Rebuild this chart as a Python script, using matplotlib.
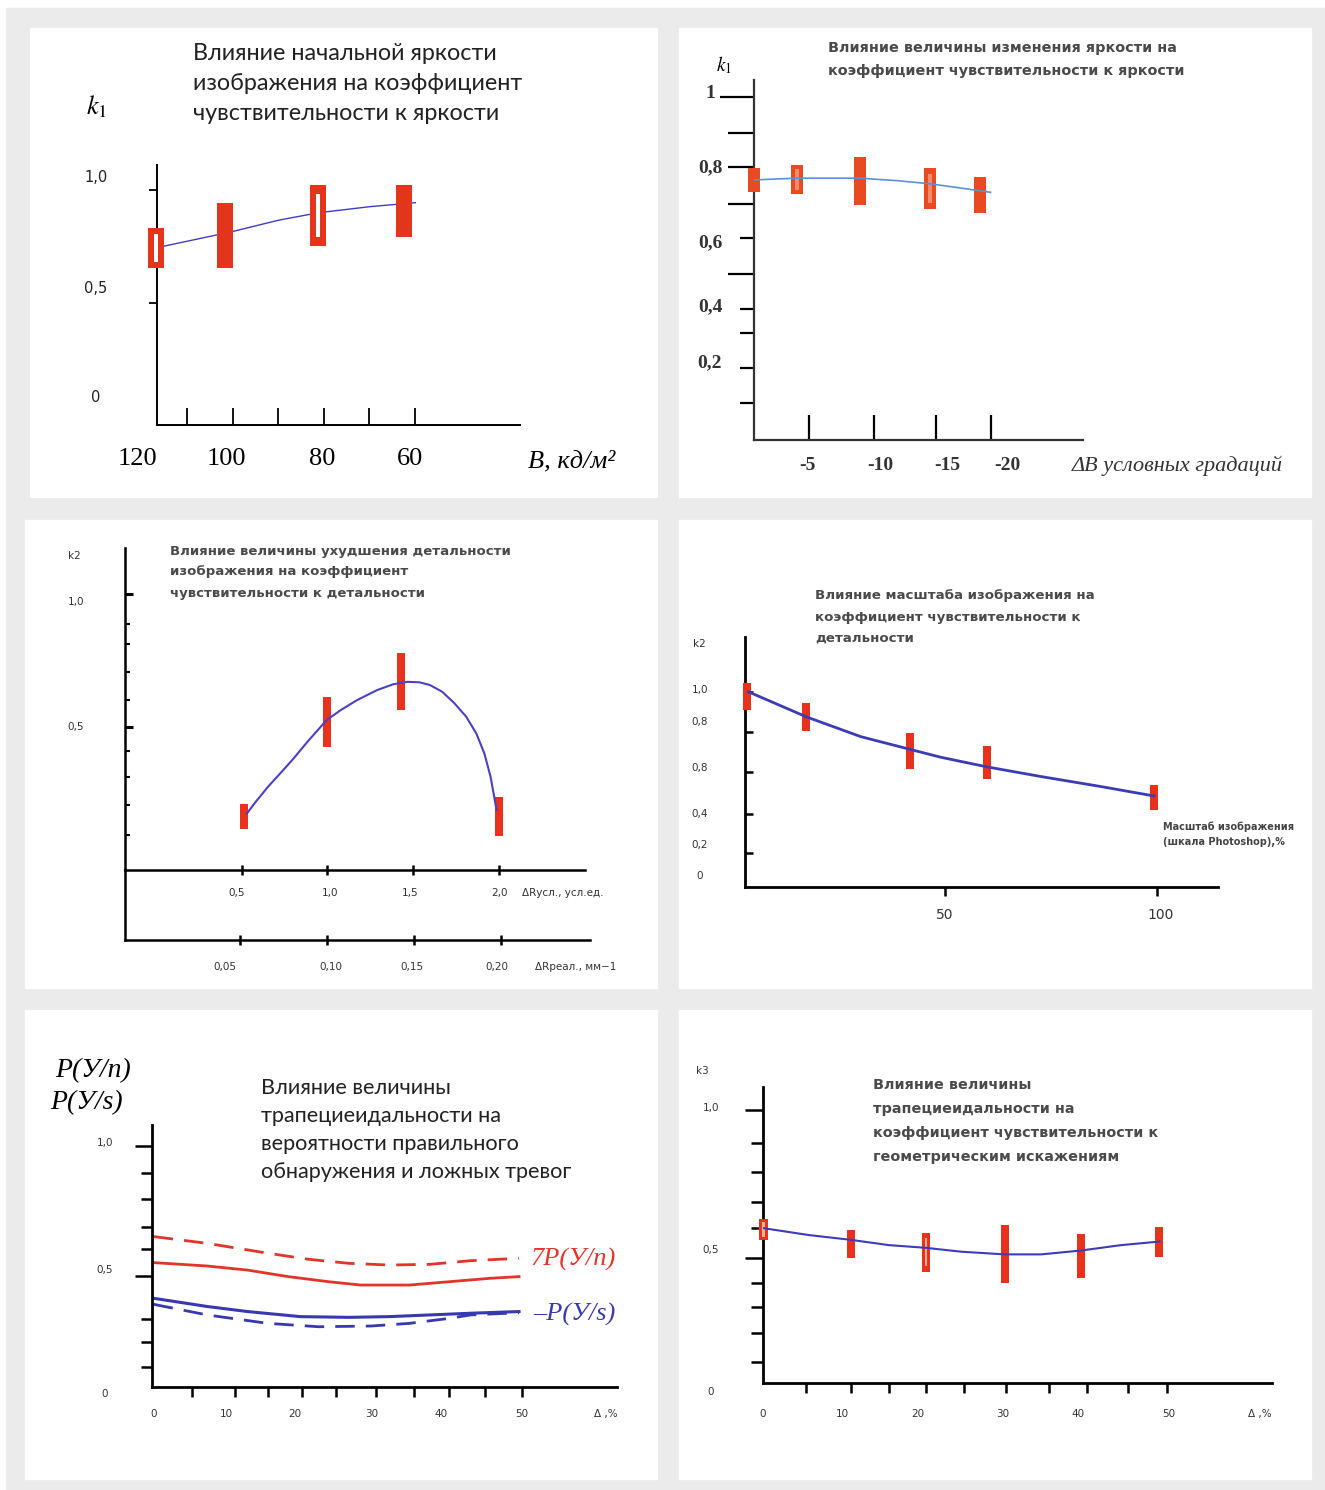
import matplotlib
matplotlib.use('Agg')
import matplotlib.pyplot as plt
from matplotlib.patches import Rectangle

plt.rcParams['mathtext.fontset'] = 'stix'

W, H = 1325, 1490

# ---------- данные: панель 1 (начальная яркость)
p1_bar_x = [116.9, 101.8, 81.3, 62.4]
p1_bar_lo = [0.655, 0.655, 0.752, 0.792]
p1_bar_hi = [0.832, 0.942, 1.022, 1.022]
p1_hollow = [True, False, True, False]
p1_curve_x = [115.1, 100.4, 89.9, 81.1, 69.7, 59.9]
p1_curve_y = [0.752, 0.815, 0.867, 0.900, 0.927, 0.944]
p1_xticks = [110, 100, 90, 80, 70, 60]
p1_xlab_pos = [120.9, 101.5, 80.4, 61.1]
p1_xlab = ['120', '100', '80', '60']
p1_yticks = [1.0, 0.5]
p1_ylab_pos = [1.054, 0.566, 0.08]
p1_ylab = ['1,0', '0,5', '0']

# ---------- панель 2 (изменение яркости)
p2_bar_x = [0.0, -3.9, -9.6, -16.0, -20.5]
p2_bar_lo = [0.731, 0.724, 0.693, 0.681, 0.671]
p2_bar_hi = [0.797, 0.806, 0.828, 0.797, 0.773]
p2_hollow = [False, True, False, True, False]
p2_curve_x = [0.0, -3.86, -9.6, -13.0, -16.0, -18.8, -21.5]
p2_curve_y = [0.764, 0.769, 0.769, 0.762, 0.753, 0.741, 0.729]
p2_yticks_top = [1.0]
p2_yticks_long = [0.898, 0.8, 0.696, 0.497]
p2_yticks_short = [0.599, 0.398, 0.331, 0.231, 0.131]
p2_ylab_pos = [1.010, 0.798, 0.585, 0.404, 0.245]
p2_ylab = ['1', '0,8', '0,6', '0,4', '0,2']
p2_xticks = [-5.0, -10.9, -16.5, -21.5]
p2_xlab_pos = [-4.9, -11.5, -17.6, -23.0]
p2_xlab = ['-5', '-10', '-15', '-20']

# ---------- панель 3 (ухудшение детальности)
p3_bar_x = [0.512, 0.996, 1.433, 2.0]
p3_bar_lo = [0.117, 0.428, 0.565, 0.094]
p3_bar_hi = [0.212, 0.613, 0.778, 0.240]
p3_curve_x = [0.531, 0.583, 0.654, 0.725, 0.795, 0.890, 0.996, 1.079, 1.173, 1.291, 1.386,
              1.469, 1.539, 1.599, 1.670, 1.740, 1.811, 1.870, 1.917, 1.953, 1.988]
p3_curve_y = [0.177, 0.221, 0.277, 0.327, 0.377, 0.450, 0.527, 0.565, 0.602, 0.640, 0.662,
              0.671, 0.669, 0.659, 0.634, 0.592, 0.540, 0.477, 0.402, 0.315, 0.190]
p3_yticks = [0.887, 0.812, 0.709, 0.602, 0.411, 0.315, 0.209, 0.096]
p3_yticks_main = [1.0, 0.5]
p3_ylab_pos = [0.970, 0.501]
p3_ylab = ['1,0', '0,5']
p3_xticks = [0.5, 1.0, 1.5, 2.0]
p3_xlab_pos = [0.473, 1.016, 1.483, 2.008]
p3_xlab = ['0,5', '1,0', '1,5', '2,0']
p3_x2ticks = [0.05, 0.10, 0.15, 0.20]
p3_x2lab_pos = [0.0416, 0.1025, 0.149, 0.198]
p3_x2lab = ['0,05', '0,10', '0,15', '0,20']

# ---------- панель 4 (масштаб изображения)
p4_bar_x = [3.2, 17.1, 41.7, 59.8, 99.2]
p4_bar_lo = [0.910, 0.807, 0.615, 0.566, 0.413]
p4_bar_hi = [1.043, 0.947, 0.794, 0.731, 0.537]
p4_curve_x = [3.6, 17.2, 30.1, 41.7, 49.1, 59.8, 72.8, 87.0, 99.3]
p4_curve_y = [1.001, 0.877, 0.778, 0.715, 0.675, 0.628, 0.579, 0.529, 0.483]
p4_yticks = [1.0, 0.8, 0.6, 0.393, 0.198]
p4_ylab_pos = [1.010, 0.851, 0.622, 0.393, 0.239, 0.085]
p4_ylab = ['1,0', '0,8', '0,8', '0,4', '0,2', '0']
p4_xticks = [50, 100]
p4_xlab_pos = [50.0, 100.8]
p4_xlab = ['50', '100']

# ---------- панель 5 (вероятности)
p5_rd_x = [0, 7.26, 15.5, 21.0, 26.5, 32.0, 37.5, 43.0, 49.6]
p5_rd_y = [0.624, 0.596, 0.555, 0.530, 0.513, 0.506, 0.509, 0.524, 0.534]
p5_rs_x = [0, 7.26, 12.75, 18.25, 23.7, 28.1, 34.7, 40.2, 45.7, 49.6]
p5_rs_y = [0.516, 0.502, 0.485, 0.458, 0.437, 0.423, 0.423, 0.437, 0.451, 0.458]
p5_bs_x = [0, 7.26, 12.75, 19.9, 26.5, 32.0, 37.5, 43.0, 49.6]
p5_bs_y = [0.368, 0.334, 0.313, 0.292, 0.289, 0.292, 0.299, 0.306, 0.313]
p5_bd_x = [0, 7.26, 15.5, 22.4, 29.5, 34.7, 40.2, 43.0, 49.6]
p5_bd_y = [0.343, 0.299, 0.264, 0.250, 0.253, 0.264, 0.285, 0.299, 0.308]
p5_yticks_main = [1.0, 0.462]
p5_yticks = [0.887, 0.779, 0.665, 0.571, 0.281, 0.185, 0.082]
p5_ylab_pos = [1.012, 0.485, -0.03]
p5_ylab = ['1,0', '0,5', '0']
p5_xticks = [5.2, 11.0, 15.5, 20.2, 24.8, 30.2, 35.4, 40.1, 45.0, 50.0]
p5_xlab_pos = [0, 9.8, 19.2, 29.6, 39.0, 50.0]
p5_xlab = ['0', '10', '20', '30', '40', '50']

# ---------- панель 6 (геометрические искажения)
p6_bar_x = [0.15, 11.0, 20.2, 29.9, 39.3, 49.0]
p6_bar_lo = [0.524, 0.457, 0.408, 0.367, 0.386, 0.460]
p6_bar_hi = [0.600, 0.560, 0.551, 0.579, 0.545, 0.570]
p6_hollow = [True, False, True, False, False, False]
p6_curve_x = [0.15, 5.7, 11.0, 15.6, 20.2, 24.5, 29.9, 34.4, 39.3, 44.3, 49.0]
p6_curve_y = [0.567, 0.542, 0.524, 0.505, 0.495, 0.481, 0.471, 0.471, 0.485, 0.505, 0.518]
p6_yticks_main = [1.0, 0.457]
p6_yticks = [0.878, 0.772, 0.662, 0.567, 0.365, 0.280, 0.184, 0.078]
p6_ylab_pos = [1.007, 0.487, -0.033]
p6_ylab = ['1,0', '0,5', '0']
p6_xticks = [5.35, 11.0, 15.6, 20.2, 24.9, 30.1, 35.4, 40.1, 45.1, 50.0]
p6_xlab_pos = [0.09, 9.9, 19.2, 29.7, 38.9, 50.1]
p6_xlab = ['0', '10', '20', '30', '40', '50']

titles = {
    1: ['Влияние начальной яркости', 'изображения на коэффициент', 'чувствительности к яркости'],
    2: ['Влияние величины изменения яркости на', 'коэффициент чувствительности к яркости'],
    3: ['Влияние величины ухудшения детальности', 'изображения на коэффициент',
        'чувствительности к детальности'],
    4: ['Влияние масштаба изображения на', 'коэффициент чувствительности к', 'детальности'],
    5: ['Влияние величины', 'трапециеидальности на', 'вероятности правильного',
        'обнаружения и ложных тревог'],
    6: ['Влияние величины', 'трапециеидальности на', 'коэффициент чувствительности к',
        'геометрическим искажениям'],
}

RED = '#e3341c'
SERIF = ['Liberation Serif', 'DejaVu Serif']
SANS = ['DejaVu Sans']
GREY = '#3a3a3a'

fig = plt.figure(figsize=(W / 100, H / 100), dpi=100)
fig.patches.append(Rectangle((6 / W, 0), 1, 1 - 8 / H, transform=fig.transFigure,
                             color='#eaebea', zorder=-10))
for x0, y0, x1, y1 in [(30, 28, 657, 497), (679, 28, 1311, 497),
                       (25, 520, 657, 988), (679, 520, 1311, 988),
                       (25, 1010, 657, 1479), (679, 1010, 1311, 1479)]:
    fig.patches.append(Rectangle((x0 / W, 1 - y1 / H), (x1 - x0) / W, (y1 - y0) / H,
                                 transform=fig.transFigure, color='white', zorder=-9))


def ftext(x, y, s, **kw):
    fig.text(x / W, 1 - y / H, s, **kw)


def lines(x, y, dy, rows, **kw):
    for i, r in enumerate(rows):
        ftext(x, y + i * dy, r, va='center', **kw)


def make_axes(x0, y0, x1, y1, xlim, ylim, lw=1.3, color='black'):
    ax = fig.add_axes([x0 / W, 1 - y1 / H, (x1 - x0) / W, (y1 - y0) / H])
    ax.set_xlim(*xlim)
    ax.set_ylim(*ylim)
    ax.patch.set_alpha(0)
    for s in ['top', 'right']:
        ax.spines[s].set_visible(False)
    for s in ['left', 'bottom']:
        ax.spines[s].set_linewidth(lw)
        ax.spines[s].set_color(color)
    ax.set_xticks([])
    ax.set_yticks([])
    ax.pw, ax.ph = x1 - x0, y1 - y0
    return ax


def ymarks(ax, vals, a, b, lw=1.3):
    ax.hlines(vals, a / ax.pw, b / ax.pw, transform=ax.get_yaxis_transform(),
              colors='black', lw=lw, clip_on=False)


def xmarks(ax, vals, a, b, lw=1.3):
    ax.vlines(vals, a / ax.ph, b / ax.ph, transform=ax.get_xaxis_transform(),
              colors='black', lw=lw, clip_on=False)


def ylabels(ax, vals, labs, dx, **kw):
    for v, s in zip(vals, labs):
        ax.text(dx / ax.pw, v, s, transform=ax.get_yaxis_transform(),
                ha='center', va='center', clip_on=False, **kw)


def xlabels(ax, vals, labs, dy, **kw):
    for v, s in zip(vals, labs):
        ax.text(v, -dy / ax.ph, s, transform=ax.get_xaxis_transform(),
                ha='center', va='center', clip_on=False, **kw)


def bars(ax, xs, lo, hi, width, color, hollow=None, inner='white'):
    h = [b - a for a, b in zip(lo, hi)]
    ax.bar(xs, h, bottom=lo, width=width, color=color, zorder=3, clip_on=False)
    if hollow:
        for x, a, hh, hv in zip(xs, lo, h, hollow):
            if hv:
                ax.bar(x, hh * 0.7, bottom=a + hh * 0.15, width=width * 0.3,
                       color=inner, zorder=4, clip_on=False)


# ================= панель 1
ax1 = make_axes(157, 165, 520, 425, (116.7, 36.9), (-0.04, 1.111), lw=1.4)
ax1.plot(p1_curve_x, p1_curve_y, color='#3c3cc8', lw=1.0, zorder=2)
bars(ax1, p1_bar_x, p1_bar_lo, p1_bar_hi, 3.4, RED, p1_hollow)
ymarks(ax1, p1_yticks, -8, 0)
xmarks(ax1, p1_xticks, 0, 17)
ylabels(ax1, p1_ylab_pos, p1_ylab, -61, fontsize=10.5, family=SANS, color='#222')
xlabels(ax1, p1_xlab_pos, p1_xlab, 34, fontsize=19, family=SERIF)
lines(193, 53, 30, titles[1], fontsize=16.8, family=['Lato', 'DejaVu Sans'], color='#222')
ftext(97, 107, r'$k_1$', fontsize=19, ha='center', va='center')
ftext(572, 461, 'B, кд/м²', fontsize=19, ha='center', va='center', family=SERIF,
      style='italic')

# ================= панель 2
ax2 = make_axes(754, 80, 1083, 440, (0, -29.9), (0.0275, 1.047), lw=1.6, color='#333')
bars(ax2, p2_bar_x, p2_bar_lo, p2_bar_hi, 1.1, '#e84a22', p2_hollow, inner='#f28c6c')
ax2.plot(p2_curve_x, p2_curve_y, color='#5c90dc', lw=1.2, zorder=5)
ymarks(ax2, p2_yticks_top, -34, 0, lw=1.6)
ymarks(ax2, p2_yticks_long, -26, 0, lw=1.6)
ymarks(ax2, p2_yticks_short, -14, 0, lw=1.6)
xmarks(ax2, p2_xticks, 0, 25, lw=1.6)
ylabels(ax2, p2_ylab_pos, p2_ylab, -44, fontsize=14, family=SERIF, weight='bold', color='#333')
xlabels(ax2, p2_xlab_pos, p2_xlab, 26, fontsize=14, family=SERIF, weight='bold', color='#333')
lines(828, 48, 23, titles[2], fontsize=10.4, family=SANS, weight='bold', color='#4a4a4a')
ftext(724, 65, r'$k_1$', fontsize=14, ha='center', va='center')
ftext(1177, 466, 'ΔB условных градаций', fontsize=16, ha='center', va='center',
      family=SERIF, style='italic', color='#333')

# ================= панель 3
ax3 = make_axes(125, 548, 585, 870, (-0.18, 2.504), (-0.035, 1.173), lw=1.8)
ax3b = make_axes(125, 870, 590, 940, (-0.0159, 0.2513), (0, 1), lw=1.8)
bars(ax3, p3_bar_x, p3_bar_lo, p3_bar_hi, 0.047, '#e8321c')
ax3.plot(p3_curve_x, p3_curve_y, color='#4a40c8', lw=1.5, zorder=5)
ymarks(ax3, p3_yticks, 0, 5, lw=1.5)
ymarks(ax3, p3_yticks_main, 0, 8, lw=2.2)
xmarks(ax3, p3_xticks, -5, 5, lw=1.8)
xmarks(ax3b, p3_x2ticks, -5, 5, lw=1.8)
small = dict(fontsize=7.5, family=SANS, color='#333')
ylabels(ax3, p3_ylab_pos, p3_ylab, -49, **small)
xlabels(ax3, p3_xlab_pos, p3_xlab, 23, **small)
xlabels(ax3b, p3_x2lab_pos, p3_x2lab, 27, **small)
ftext(74, 556, 'k2', ha='center', va='center', **small)
ftext(522, 893, 'ΔRусл., усл.ед.', ha='left', va='center', **small)
ftext(535, 967, 'ΔRреал., мм−1', ha='left', va='center', **small)
lines(170, 551, 21, titles[3], fontsize=9.5, family=SANS, weight='bold', color='#4a4a4a')

# ================= панель 4
ax4 = make_axes(745, 637, 1218, 887, (2.76, 114.4), (0.030, 1.274), lw=2.0)
bars(ax4, p4_bar_x, p4_bar_lo, p4_bar_hi, 1.9, '#e8321c')
ax4.plot(p4_curve_x, p4_curve_y, color='#3b3bb8', lw=2.0, zorder=5)
ymarks(ax4, p4_yticks, 0, 8, lw=1.8)
xmarks(ax4, p4_xticks, -9, 0, lw=1.8)
ylabels(ax4, p4_ylab_pos, p4_ylab, -45, **small)
xlabels(ax4, p4_xlab_pos, p4_xlab, 28, fontsize=10, family=SANS, color='#333')
ftext(699, 644, 'k2', ha='center', va='center', **small)
lines(1163, 827, 15, ['Масштаб изображения', '(шкала Photoshop),%'], fontsize=7,
      family=SANS, weight='bold', color='#444')
lines(815, 596, 21, titles[4], fontsize=9.6, family=SANS, weight='bold', color='#4a4a4a')

# ================= панель 5
ax5 = make_axes(152, 1125, 617, 1387, (-0.23, 62.9), (0, 1.087), lw=2.0)
ax5.plot(p5_rd_x, p5_rd_y, color='#e3342a', lw=2.0, dashes=(7, 4))
ax5.plot(p5_rs_x, p5_rs_y, color='#e3342a', lw=2.0)
ax5.plot(p5_bs_x, p5_bs_y, color='#3838b0', lw=2.2)
ax5.plot(p5_bd_x, p5_bd_y, color='#3838b0', lw=2.0, dashes=(7, 4))
ymarks(ax5, p5_yticks_main, -17, 0, lw=1.8)
ymarks(ax5, p5_yticks, -11, 0, lw=1.8)
xmarks(ax5, p5_xticks, -10, 0, lw=1.8)
ylabels(ax5, p5_ylab_pos, p5_ylab, -47, **small)
xlabels(ax5, p5_xlab_pos, p5_xlab, 27, **small)
ftext(606, 1414, 'Δ ,%', ha='center', va='center', **small)
lines(261, 1088, 28, titles[5], fontsize=15.6, family=['Lato', 'DejaVu Sans'], color='#222')
ftext(55, 1071, 'P(У/n)', fontsize=20, family=SERIF, style='italic', va='center')
ftext(50, 1103, 'P(У/s)', fontsize=20, family=SERIF, style='italic', va='center')
ftext(530, 1259, '7P(У/n)', fontsize=19, family=SERIF, style='italic', va='center',
      color='#e3342a')
ftext(533, 1314, '–P(У/s)', fontsize=19, family=SERIF, style='italic', va='center',
      color='#3838b0')

# ================= панель 6
ax6 = make_axes(763, 1087, 1272, 1383, (0.09, 62.9), (0, 1.084), lw=2.0)
bars(ax6, p6_bar_x, p6_bar_lo, p6_bar_hi, 1.0, '#e8321c', p6_hollow, inner='#f6b09c')
ax6.plot(p6_curve_x, p6_curve_y, color='#3b3bc0', lw=1.5, zorder=5)
ymarks(ax6, p6_yticks_main, -18, 0, lw=1.8)
ymarks(ax6, p6_yticks, -12, 0, lw=1.8)
xmarks(ax6, p6_xticks, -10, 0, lw=1.8)
ylabels(ax6, p6_ylab_pos, p6_ylab, -52, **small)
xlabels(ax6, p6_xlab_pos, p6_xlab, 31, **small)
ftext(702, 1071, 'k3', ha='center', va='center', **small)
ftext(1260, 1414, 'Δ ,%', ha='center', va='center', **small)
lines(873, 1085, 24, titles[6], fontsize=10.4, family=SANS, weight='bold', color='#4a4a4a')

fig.savefig('out.png', dpi=100)
